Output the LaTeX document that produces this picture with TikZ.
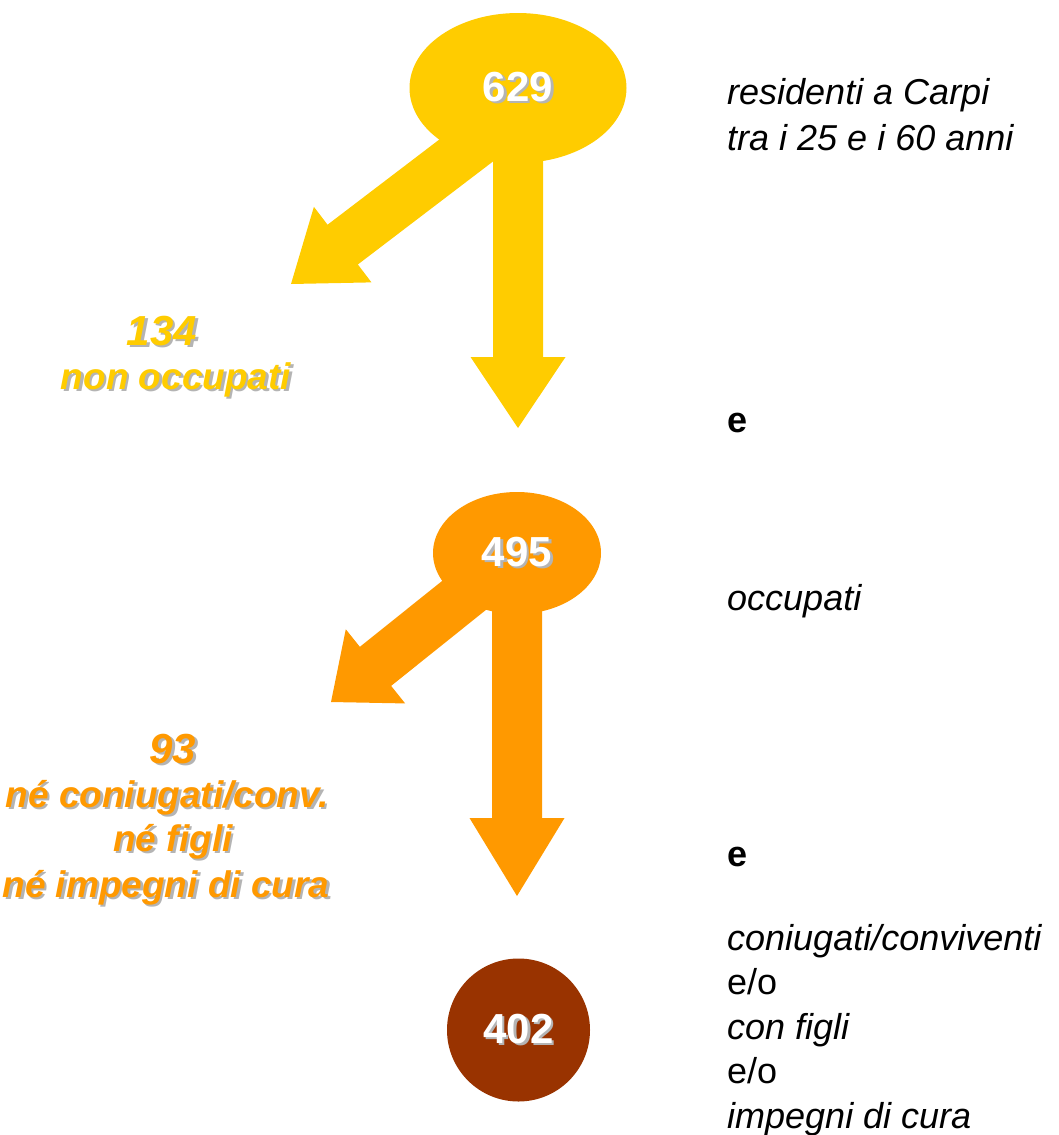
\documentclass[tikz,border=0pt]{standalone}
\usepackage{fontspec}
\setmainfont{Liberation Sans}
\usepackage{xcolor}
\usetikzlibrary{calc}
\usetikzlibrary{shapes.geometric}

\definecolor{giallo}{HTML}{FFCC00}
\definecolor{arancio}{HTML}{FF9900}
\definecolor{mattone}{HTML}{993300}
\definecolor{ombra}{HTML}{B4B4B4}

% text with a grey drop shadow
\newcommand{\ombrato}[2]{\makebox[0pt][l]{\kern2.5pt\raisebox{-2.5pt}{\textcolor{ombra}{#2}}}\textcolor{#1}{#2}}

% fat block arrow: colour, start, tip, head length
\newcommand{\frecciona}[4]{%
  \coordinate (hb) at ($(#3)!#4!(#2)$);
  \fill[#1] ($(#2)!25pt!90:(#3)$) -- ($(hb)!25pt!90:(#3)$) -- ($(hb)!47.5pt!90:(#3)$)
    -- (#3) -- ($(hb)!47.5pt!-90:(#3)$) -- ($(hb)!25pt!-90:(#3)$) -- ($(#2)!25pt!-90:(#3)$) -- cycle;
}

\begin{document}
\begin{tikzpicture}[x=1pt,y=-1pt,
  bolla/.style={ellipse, inner sep=0pt},
  numero/.style={inner sep=0pt, font=\fontsize{42}{48}\selectfont\bfseries},
  cifra/.style={inner sep=0pt, anchor=base, font=\fontsize{42}{48}\selectfont\bfseries\itshape},
  etichetta/.style={inner sep=0pt, anchor=base, font=\fontsize{37}{44}\selectfont\bfseries\itshape},
  testo/.style={inner sep=0pt, anchor=base west, font=\fontsize{36}{43}\selectfont}]

\useasboundingbox (0,0) rectangle (1058,1135);

% Draw the bubbles
\node[bolla, fill=giallo, minimum width=217pt, minimum height=150pt] (b629) at (518,88) {};
\node[bolla, fill=arancio, minimum width=168pt, minimum height=122pt] (b495) at (517,553) {};
\node[circle, fill=mattone, minimum size=143pt, inner sep=0pt] (b402) at (518.5,1030) {};

% arrow tips
\coordinate (via1) at (518,111);
\coordinate (giu1) at (518,428);
\coordinate (lato1) at (291,284);
\coordinate (giu2) at (517,896);
\coordinate (lato2) at (331,702);

\frecciona{giallo}{b629.center}{giu1}{71pt}
\frecciona{giallo}{via1}{lato1}{65pt}
\frecciona{arancio}{b495.center}{giu2}{78pt}
\frecciona{arancio}{b495.center}{lato2}{57pt}

% numbers in the bubbles
\node[numero] (t629) at (b629.center) {\ombrato{white}{629}};
\node[numero] (t495) at (b495.center) {\ombrato{white}{495}};
\node[numero] (t402) at (b402.center) {\ombrato{white}{402}};

% left labels
\node[cifra] (n134) at (162,345) {\ombrato{giallo}{134}};
\node[etichetta] (l134) at (176,389) {\ombrato{giallo}{non occupati}};

\node[cifra] (n93) at (173,763) {\ombrato{arancio}{93}};
\node[etichetta] (l93a) at (167,807) {\ombrato{arancio}{né coniugati/conv.}};
\node[etichetta] (l93b) at (173,851) {\ombrato{arancio}{né figli}};
\node[etichetta] (l93c) at (166,897) {\ombrato{arancio}{né impegni di cura}};

% right column
\node[testo] (r1) at (727,104) {\itshape residenti a Carpi};
\node[testo] (r2) at (727,150) {\itshape tra i 25 e i 60 anni};
\node[testo] (r3) at (727,432) {\bfseries e};
\node[testo] (r4) at (727,610) {\itshape occupati};
\node[testo] (r5) at (727,866) {\bfseries e};
\node[testo] (r6) at (727,950) {\itshape coniugati/conviventi};
\node[testo] (r7) at (727,994) {e/o};
\node[testo] (r8) at (727,1039) {\itshape con figli};
\node[testo] (r9) at (727,1083) {e/o};
\node[testo] (r10) at (727,1128) {\itshape impegni di cura};

\end{tikzpicture}
\end{document}
